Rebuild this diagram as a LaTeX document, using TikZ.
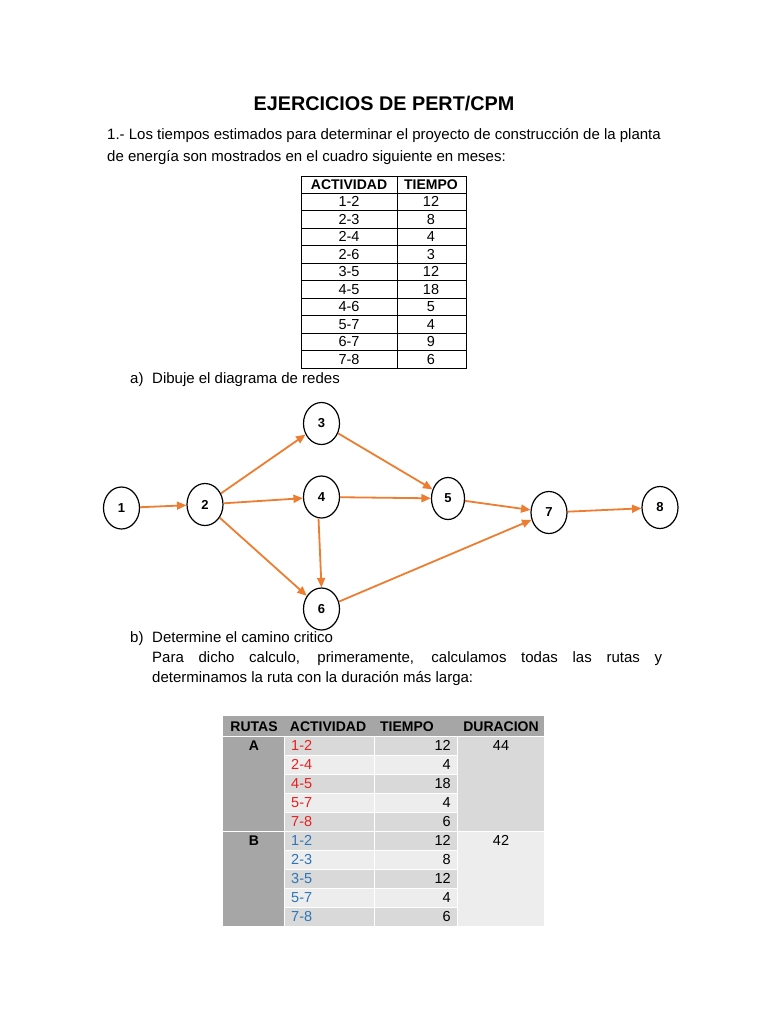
\documentclass[tikz,border=0pt]{standalone}
\usepackage{fontspec}
\setmainfont{Liberation Sans}
\usetikzlibrary{shapes.geometric,arrows.meta}
\definecolor{orng}{HTML}{ED7D31}
\definecolor{hdrgray}{HTML}{A6A6A6}
\definecolor{dkrow}{HTML}{D9D9D9}
\definecolor{ltrow}{HTML}{EDEDED}
\definecolor{redtxt}{HTML}{E8201E}
\definecolor{bluetxt}{HTML}{2E75B6}
\begin{document}
\begin{tikzpicture}[x=1pt,y=-1pt,
  body/.style={anchor=base west,inner sep=0pt,font=\fontsize{15}{18}\selectfont},
  tcell/.style={anchor=base,inner sep=0pt,font=\fontsize{14.5}{17}\selectfont},
  thead/.style={anchor=base,inner sep=0pt,font=\bfseries\fontsize{14}{16}\selectfont},
  evt/.style={ellipse,draw,line width=1.2pt,minimum width=36pt,minimum height=42pt,inner sep=0pt,font=\bfseries\fontsize{13}{15}\selectfont},
  arr/.style={draw=orng,line width=1.8pt,-{Triangle[length=9.5pt,width=8pt]}},
  gridw/.style={draw=white,line width=1pt}]
\useasboundingbox[fill=white] (0,0) rectangle (768,1024);

\node[anchor=base,inner sep=0pt,font=\bfseries\fontsize{19.8}{22}\selectfont] (title) at (384,111) {EJERCICIOS DE PERT/CPM};
\node[body] (p1) at (107,140) {1.- Los tiempos estimados para determinar el proyecto de construcción de la planta};
\node[body] (p2) at (107,162) {de energía son mostrados en el cuadro siguiente en meses:};

% table 1
\draw[line width=0.9pt] (301,176) rectangle (466,368);
\draw[line width=0.9pt] (397,176) -- (397,368);
\foreach \i in {1,...,10} \draw[line width=0.9pt] (301,{176+17.45*\i}) -- (466,{176+17.45*\i});
\node[thead] (h1) at (349,190) {ACTIVIDAD};
\node[thead] (h2) at (431,190) {TIEMPO};
\foreach \a/\t [count=\i] in {1-2/12,2-3/8,2-4/4,2-6/3,3-5/12,4-5/18,4-6/5,5-7/4,6-7/9,7-8/6}{
  \node[tcell] (ta\i) at (349,{176+17.45*\i+13.5}) {\a};
  \node[tcell] (tt\i) at (431,{176+17.45*\i+13.5}) {\t};
}

\node[body] (qa) at (130,383) {a)};
\node[body] (qat) at (152,383) {Dibuje el diagrama de redes};

% network
\node[evt] (n1) at (121.5,508) {1};
\node[evt] (n2) at (205,504.5) {2};
\node[evt] (n3) at (321.5,423.5) {3};
\node[evt] (n4) at (321.5,497) {4};
\node[evt] (n6) at (321.5,609) {6};
\node[evt,minimum width=33pt] (n5) at (448,498.5) {5};
\node[evt] (n7) at (549,512.5) {7};
\node[evt] (n8) at (660,507.5) {8};
\draw[arr] (n1) -- (n2);
\draw[arr] (n2) -- (n3);
\draw[arr] (n2) -- (n4);
\draw[arr] (n2) -- (n6);
\draw[arr] (n3) -- (n5);
\draw[arr] (n4) -- (n5);
\draw[arr] (n4.-98) -- (n6.north);
\draw[arr] (n5) -- (n7);
\draw[arr] (n6) -- (n7);
\draw[arr] (n7) -- (n8);

\node[body] (qb) at (130,642) {b)};
\node[body] (qbt) at (152,642) {Determine el camino critico};
\node[body] (qb2) at (152,662) {\makebox[510pt][s]{Para dicho calculo, primeramente, calculamos todas las rutas y}};
\node[body] (qb3) at (152,682) {determinamos la ruta con la duración más larga:};

% table 2
\fill[hdrgray] (223,716) rectangle (544,736);
\fill[hdrgray] (223,736) rectangle (284,926);
\foreach \i in {0,...,9}{
  \pgfmathtruncatemacro{\m}{mod(\i+floor(\i/5),2)}
  \ifnum\m=0 \def\rc{dkrow}\else\def\rc{ltrow}\fi
  \fill[\rc] (284,{736+19*\i}) rectangle (457,{755+19*\i});
}
\fill[dkrow] (457,736) rectangle (544,831);
\fill[ltrow] (457,831) rectangle (544,926);
\foreach \i in {1,...,9} \draw[gridw] (284,{736+19*\i}) -- (457,{736+19*\i});
\draw[gridw] (223,831) -- (544,831);
\draw[gridw] (223,736) -- (544,736);
\draw[gridw] (284,736) -- (284,926);
\draw[gridw] (374,736) -- (374,926);
\draw[gridw] (457,736) -- (457,926);

\node[thead] (r1) at (254,731) {RUTAS};
\node[thead] (r2) at (328,731) {ACTIVIDAD};
\node[thead] (r3) at (407,731) {TIEMPO};
\node[thead] (r4) at (501,731) {DURACION};
\node[thead] (ra) at (254,750) {A};
\node[thead] (rb) at (254,845) {B};
\node[tcell] (da) at (501,750) {44};
\node[tcell] (db) at (501,845) {42};
\foreach \a/\t [count=\i] in {1-2/12,2-4/4,4-5/18,5-7/4,7-8/6}{
  \node[tcell,anchor=base west,text=redtxt] (xa\i) at (291,{736+19*\i-5}) {\a};
  \node[tcell,anchor=base east] (ya\i) at (451,{736+19*\i-5}) {\t};
}
\foreach \a/\t [count=\i] in {1-2/12,2-3/8,3-5/12,5-7/4,7-8/6}{
  \node[tcell,anchor=base west,text=bluetxt] (xb\i) at (291,{831+19*\i-5}) {\a};
  \node[tcell,anchor=base east] (yb\i) at (451,{831+19*\i-5}) {\t};
}
\end{tikzpicture}
\end{document}
